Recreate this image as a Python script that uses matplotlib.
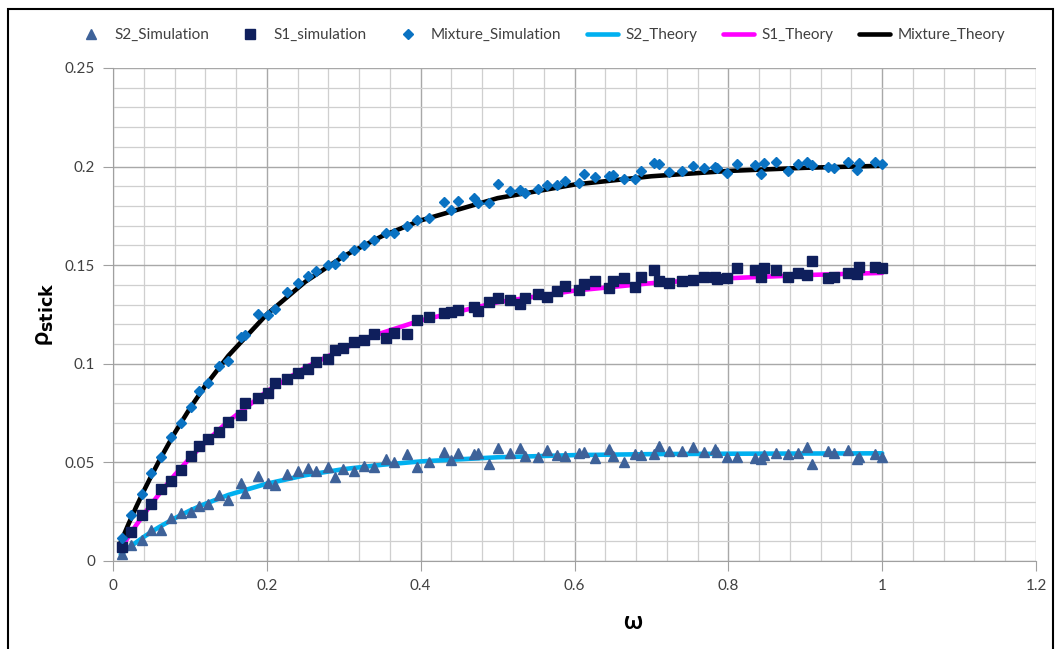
"""Sticking probability vs omega: simulation points and theory curves."""

import matplotlib
matplotlib.use('Agg')
import matplotlib.pyplot as plt
from matplotlib.patches import Rectangle
from matplotlib.ticker import MultipleLocator

plt.rcParams['font.family'] = ['Lato', 'DejaVu Sans']

# simulation omega values (shared by the three simulated series)
omega_sim = [
    0.012, 0.024, 0.038, 0.050, 0.062, 0.076, 0.088, 0.101, 0.112, 0.124,
    0.138, 0.150, 0.167, 0.172, 0.189,
    0.201, 0.211, 0.226, 0.241, 0.254, 0.264, 0.280, 0.289, 0.299, 0.313,
    0.326, 0.339, 0.355, 0.365, 0.382, 0.395,
    0.411, 0.430, 0.440, 0.449, 0.469, 0.474, 0.489, 0.500, 0.516, 0.529,
    0.535, 0.552, 0.564, 0.577, 0.587,
    0.606, 0.612, 0.627, 0.645, 0.650, 0.664, 0.679, 0.686, 0.703, 0.710,
    0.723, 0.740, 0.754, 0.769, 0.783, 0.785, 0.798,
    0.811, 0.835, 0.843, 0.847, 0.862, 0.878, 0.890, 0.902, 0.909, 0.930,
    0.937, 0.955, 0.967, 0.970, 0.991, 1.000,
]

s2_sim = [
    0.0034, 0.0081, 0.0106, 0.0157, 0.0157, 0.0220, 0.0242, 0.0250, 0.0279, 0.0289,
    0.0335, 0.0309, 0.0397, 0.0343, 0.0431,
    0.0394, 0.0385, 0.0441, 0.0458, 0.0470, 0.0458, 0.0475, 0.0428, 0.0465, 0.0458,
    0.0482, 0.0475, 0.0516, 0.0504, 0.0543, 0.0479,
    0.0504, 0.0554, 0.0512, 0.0549, 0.0543, 0.0549, 0.0492, 0.0571, 0.0549, 0.0571,
    0.0532, 0.0526, 0.0563, 0.0538, 0.0532,
    0.0546, 0.0554, 0.0521, 0.0567, 0.0532, 0.0504, 0.0543, 0.0538, 0.0543, 0.0583,
    0.0560, 0.0560, 0.0577, 0.0554, 0.0567, 0.0555, 0.0529,
    0.0529, 0.0521, 0.0516, 0.0538, 0.0546, 0.0543, 0.0549, 0.0577, 0.0492, 0.0560,
    0.0549, 0.0563, 0.0516, 0.0529, 0.0543, 0.0529,
]

s1_sim = [
    0.0073, 0.0149, 0.0233, 0.0289, 0.0367, 0.0406, 0.0461, 0.0534, 0.0583, 0.0617,
    0.0654, 0.0703, 0.0739, 0.0803, 0.0825,
    0.0850, 0.0901, 0.0921, 0.0955, 0.0972, 0.1009, 0.1023, 0.1070, 0.1078, 0.1112,
    0.1121, 0.1150, 0.1133, 0.1156, 0.1151, 0.1222,
    0.1236, 0.1259, 0.1263, 0.1273, 0.1290, 0.1270, 0.1315, 0.1332, 0.1324, 0.1303,
    0.1335, 0.1354, 0.1341, 0.1371, 0.1395,
    0.1374, 0.1405, 0.1421, 0.1382, 0.1421, 0.1433, 0.1391, 0.1441, 0.1475, 0.1421,
    0.1412, 0.1421, 0.1425, 0.1438, 0.1438, 0.1428, 0.1433,
    0.1484, 0.1478, 0.1441, 0.1484, 0.1478, 0.1438, 0.1462, 0.1450, 0.1523, 0.1433,
    0.1441, 0.1462, 0.1455, 0.1489, 0.1489, 0.1484,
]

mix_sim = [
    0.0115, 0.0233, 0.0340, 0.0448, 0.0526, 0.0627, 0.0701, 0.0783, 0.0864, 0.0904,
    0.0990, 0.1016, 0.1137, 0.1146, 0.1253,
    0.1247, 0.1278, 0.1366, 0.1412, 0.1445, 0.1472, 0.1501, 0.1506, 0.1547, 0.1577,
    0.1602, 0.1628, 0.1662, 0.1665, 0.1699, 0.1729,
    0.1738, 0.1822, 0.1780, 0.1826, 0.1839, 0.1817, 0.1817, 0.1910, 0.1878, 0.1881,
    0.1865, 0.1885, 0.1907, 0.1907, 0.1928,
    0.1918, 0.1962, 0.1945, 0.1952, 0.1956, 0.1935, 0.1935, 0.1979, 0.2020, 0.2013,
    0.1974, 0.1979, 0.2003, 0.1991, 0.2000, 0.1991, 0.1966,
    0.2013, 0.2008, 0.1962, 0.2020, 0.2025, 0.1979, 0.2013, 0.2025, 0.2008, 0.1997,
    0.1991, 0.2025, 0.1983, 0.2020, 0.2025, 0.2013,
]

# theory curves, read at these omega values
omega_th = [0.01, 0.02, 0.03, 0.04, 0.05, 0.06, 0.08, 0.10, 0.12, 0.15, 0.20,
            0.25, 0.30, 0.35, 0.40, 0.50, 0.60, 0.70, 0.80, 0.90, 1.00]
s2_th = [0.0033, 0.0065, 0.0094, 0.0122, 0.0148, 0.0172, 0.0216, 0.0256, 0.0290,
         0.0335, 0.0392, 0.0435, 0.0466, 0.0488, 0.0505, 0.0526, 0.0537, 0.0542,
         0.0544, 0.0545, 0.0546]
s1_th = [0.0063, 0.0123, 0.0181, 0.0236, 0.0289, 0.0340, 0.0435, 0.0522, 0.0602,
         0.0709, 0.0860, 0.0981, 0.1078, 0.1157, 0.1220, 0.1312, 0.1371, 0.1409,
         0.1434, 0.1450, 0.1461]
mix_th = [0.0095, 0.0186, 0.0273, 0.0355, 0.0433, 0.0508, 0.0648, 0.0774, 0.0889,
          0.1041, 0.1251, 0.1416, 0.1546, 0.1648, 0.1727, 0.1840, 0.1909, 0.1951,
          0.1978, 0.1994, 0.2004]


def main() -> None:
    fig = plt.figure(figsize=(10.56, 6.49), dpi=100)
    ax = fig.add_axes([113 / 1056, 88 / 649, 923 / 1056, 493 / 649])

    ax.plot(omega_sim, s2_sim, linestyle='none', marker='^', ms=7.0,
            color='#3e6299', label='S2_Simulation', zorder=4)
    ax.plot(omega_sim, s1_sim, linestyle='none', marker='s', ms=6.6,
            color='#0f1f5c', label='S1_simulation', zorder=4)
    ax.plot(omega_sim, mix_sim, linestyle='none', marker='D', ms=5.6,
            color='#0a72c2', label='Mixture_Simulation', zorder=4)
    ax.plot(omega_th, s2_th, color='#00b0f0', lw=3.3, label='S2_Theory',
            zorder=3, solid_capstyle='round')
    ax.plot(omega_th, s1_th, color='#ff00ff', lw=3.3, label='S1_Theory',
            zorder=3, solid_capstyle='round')
    ax.plot(omega_th, mix_th, color='black', lw=3.3, label='Mixture_Theory',
            zorder=3, solid_capstyle='round')

    ax.set_xlim(0, 1.2)
    ax.set_ylim(0, 0.25)
    ax.xaxis.set_major_locator(MultipleLocator(0.2))
    ax.xaxis.set_minor_locator(MultipleLocator(0.04))
    ax.yaxis.set_major_locator(MultipleLocator(0.05))
    ax.yaxis.set_minor_locator(MultipleLocator(0.01))
    ax.set_xticklabels([f'{v:g}' for v in ax.get_xticks()])
    ax.set_yticklabels([f'{v:g}' for v in ax.get_yticks()])

    ax.grid(which='major', color='#a8a8a8', lw=1.0)
    ax.grid(which='minor', color='#cfcfcf', lw=0.9)
    ax.set_axisbelow(True)
    for side in ('top', 'right'):
        ax.spines[side].set_visible(False)
    for side in ('left', 'bottom'):
        ax.spines[side].set_color('#a0a0a0')
    ax.tick_params(which='major', length=7, color='#a0a0a0', labelsize=11,
                   labelcolor='#404040', pad=6)
    ax.tick_params(which='minor', length=0)

    ax.set_xlabel('ω', fontsize=17, fontweight='bold')
    ax.xaxis.set_label_coords(0.563, -0.1)
    ax.set_ylabel(r'ρ$_{\mathbf{stick}}$', fontsize=18, fontweight='bold')
    ax.yaxis.set_label_coords(-0.062, 0.5)

    fig.legend(loc='center', bbox_to_anchor=(0.512, 0.946), ncol=6,
               frameon=False, fontsize=11, handlelength=2.0,
               columnspacing=1.7, handletextpad=0.5, labelcolor='#404040')

    fig.patches.append(Rectangle((8 / 1056, -0.02), 1045 / 1056, 1.02 - 9 / 649,
                                 transform=fig.transFigure, fill=False,
                                 edgecolor='black', lw=1.5))

    fig.savefig('out.png', dpi=100)
    plt.close(fig)


if __name__ == '__main__':
    main()
